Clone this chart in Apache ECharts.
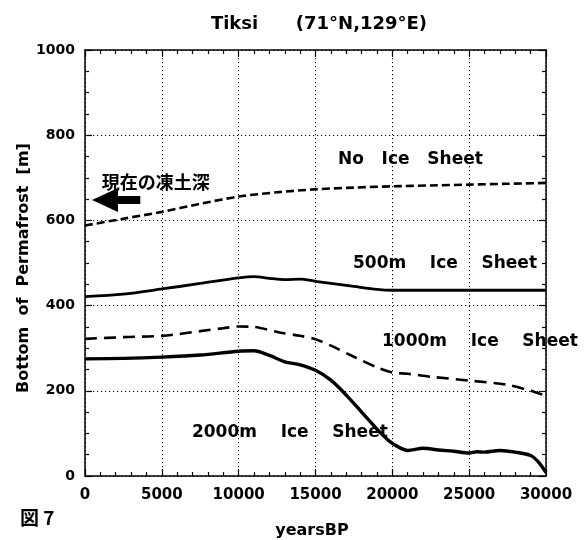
<!DOCTYPE html>
<html><head><meta charset="utf-8">
<script src="https://cdn.jsdelivr.net/npm/echarts@6/dist/echarts.min.js"></script>
<style>html,body{margin:0;padding:0;background:#fff}#c{width:584px;height:540px}</style>
</head><body><div id="c"></div>
<script>
// ---- data (years BP, depth of permafrost bottom in m) ----
const noIceYears  = [0, 2500, 5000, 7500, 10000, 12500, 15000, 17500, 20000, 22500, 25000, 27500, 30000];
const noIceDepth  = [588, 604, 620, 639, 656, 666, 673, 677, 680, 682, 684, 686, 688];

const ice500Years = [0, 2500, 5000, 7500, 10000, 11000, 12000, 13000, 14000, 15000, 17500, 19000, 20000, 25000, 30000];
const ice500Depth = [421, 427, 439, 452, 465, 468, 464, 461, 462, 457, 445, 438, 436, 436, 436];

const ice1000Years = [0, 2500, 5000, 7500, 9000, 10000, 11000, 12500, 14000, 15000, 16000, 17500, 19000, 20000, 21000, 22500, 25000, 27500, 29000, 30000];
const ice1000Depth = [322, 326, 329, 340, 347, 351, 350, 338, 329, 321, 306, 280, 255, 243, 240, 233, 224, 214, 200, 188];

const ice2000Years = [0, 2500, 5000, 7500, 10000, 11000, 12000, 13000, 14000, 15000, 16000, 17000, 18000, 19000, 19800, 20500, 21000, 22000, 23000, 24000, 25000, 25500, 26000, 27000, 28000, 29000, 29500, 30000];
const ice2000Depth = [275, 276, 279, 284, 293, 294, 283, 268, 261, 248, 225, 190, 150, 110, 82, 66, 60, 65, 61, 58, 54, 57, 56, 60, 56, 48, 33, 8];

const labelTexts = ['No   Ice   Sheet', '500m    Ice    Sheet', '1000m    Ice    Sheet', '2000m    Ice    Sheet', '現在の凍土深'];
const titleText = 'Tiksi      (71°N,129°E)';
const xName = 'yearsBP';
const yName = 'Bottom  of  Permafrost  [m]';
const figLabel = '図 7';

const zip = (a, b) => a.map((v, i) => [v, b[i]]);

const chart = echarts.init(document.getElementById('c'), null, {renderer: 'canvas'});
const BF = 'DejaVu Sans';
const black = '#000';

function axisBase(pos, showLabel, xAxis) {
  return {
    type: 'value', position: pos,
    min: 0, max: xAxis ? 30000 : 1000, interval: xAxis ? 5000 : 200,
    axisLine: {show: true, onZero: false, lineStyle: {color: black, width: 1.5}},
    axisTick: {show: true, inside: true, length: 7, lineStyle: {color: black, width: 1.2}},
    minorTick: {show: true, splitNumber: xAxis ? 5 : 4, length: 4, lineStyle: {color: black, width: 1.2}},
    splitLine: {show: showLabel, lineStyle: {color: black, width: 1, type: [1.2, 2.8]}},
    axisLabel: {show: showLabel, formatter: v => String(v), fontFamily: BF, fontWeight: 'bold',
                fontSize: xAxis ? 15 : 14, color: black, margin: xAxis ? 12 : 10}
  };
}

const annPos = [[16460, 742], [17440, 498], [19330, 315], [6960, 101], [1090, 690]];

chart.setOption({
  animation: false,
  backgroundColor: '#fff',
  title: {
    text: titleText, left: 314, top: 10, textAlign: 'center',
    textStyle: {fontFamily: BF, fontWeight: 'bold', fontSize: 18, color: black}
  },
  grid: {left: 85, right: 38, top: 50, bottom: 64, containLabel: false},
  xAxis: [axisBase('bottom', true, true), axisBase('top', false, true)],
  yAxis: [axisBase('left', true, false), axisBase('right', false, false)],
  graphic: [
    {type: 'text', left: 20, top: 508,
     style: {text: figLabel, font: 'bold 19px "Noto Sans CJK JP"', fill: black}},
    {type: 'text', x: 312, y: 531,
     style: {text: xName, font: 'bold 16px "DejaVu Sans"', fill: black, align: 'center', verticalAlign: 'middle'}},
    {type: 'text', x: 24, y: 268, rotation: Math.PI / 2,
     style: {text: yName, font: 'bold 16px "DejaVu Sans"', fill: black, align: 'center', verticalAlign: 'middle'}}
  ],
  series: [
    {
      type: 'line', data: zip(noIceYears, noIceDepth), symbol: 'none', smooth: 0.3,
      lineStyle: {color: black, width: 2.6, type: [8, 4]},
      markLine: {
        silent: true, symbol: ['none', 'triangle'], symbolSize: [24, 26],
        lineStyle: {color: black, width: 8, type: 'solid'},
        itemStyle: {color: black},
        label: {show: false},
        data: [[{coord: [3600, 648]}, {coord: [1300, 648]}]]
      }
    },
    {type: 'line', data: zip(ice500Years, ice500Depth), symbol: 'none', smooth: 0.3,
     lineStyle: {color: black, width: 2.8}},
    {type: 'line', data: zip(ice1000Years, ice1000Depth), symbol: 'none', smooth: 0.3,
     lineStyle: {color: black, width: 2.6, type: [12, 7]}},
    {type: 'line', data: zip(ice2000Years, ice2000Depth), symbol: 'none', smooth: 0.3,
     lineStyle: {color: black, width: 3.4}},
    {
      type: 'scatter', symbolSize: 0, silent: true, clip: false, z: 10,
      itemStyle: {color: black, opacity: 1},
      data: labelTexts.map((t, i) => ({
        value: annPos[i],
        label: {
          show: true, position: 'right', distance: 0, formatter: t,
          fontFamily: i === 4 ? 'Noto Sans CJK JP' : BF,
          fontWeight: 'bold', color: '#000',
          fontSize: i === 4 ? 18 : 17
        }
      })),
      label: {show: true, position: 'right', distance: 0, fontWeight: 'bold', color: '#000'},
      emphasis: {disabled: true}
    }
  ]
});
</script></body></html>
